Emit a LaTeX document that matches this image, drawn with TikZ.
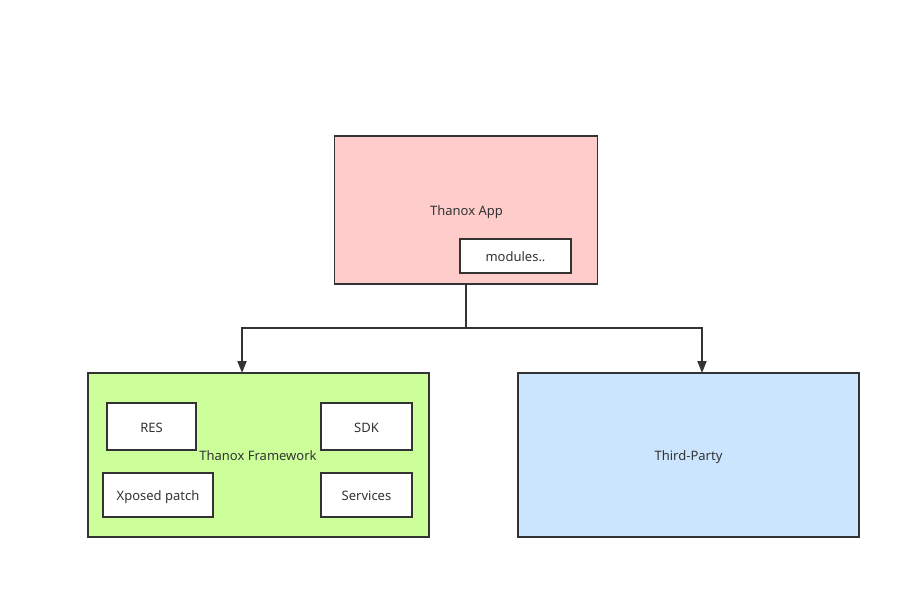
\documentclass[tikz,border=0pt]{standalone}
\usepackage{fontspec}
\setmainfont{Noto Sans}
\usepackage{xcolor}
\definecolor{lgrey}{RGB}{51,51,51}
\definecolor{apppink}{RGB}{255,204,204}
\definecolor{fwgreen}{RGB}{204,255,153}
\definecolor{tpblue}{RGB}{204,229,255}
\usetikzlibrary{arrows.meta}
\tikzset{
  lbl/.style={text=lgrey, font=\fontsize{13}{15}\selectfont, text height=12pt, text depth=1pt},
  blk/.style={lbl, draw=lgrey, line width=1.8pt, inner sep=0pt},
  arr/.style={draw=lgrey, line width=1.8pt, -{Triangle[width=9pt,length=12pt]}}
}

\begin{document}
\begin{tikzpicture}[x=1pt,y=-1pt]
\useasboundingbox (0,0) rectangle (921,600);
\node[blk, fill=apppink, minimum width=263pt, minimum height=148pt](app) at (466,210){};
\node[lbl](applbl) at (466.5,210){Thanox App};
\node[blk, fill=white, minimum width=111pt, minimum height=34pt](mods) at (515.5,256){modules..};
\node[blk, fill=fwgreen, minimum width=341pt, minimum height=164pt](fw) at (258.5,455){};
\node[lbl](fwlbl) at (258,455){Thanox Framework};
\node[blk, fill=white, minimum width=89pt, minimum height=47pt](res) at (151.5,426.5){RES};
\node[blk, fill=white, minimum width=91pt, minimum height=47pt](sdk) at (366.5,426.5){SDK};
\node[blk, fill=white, minimum width=110pt, minimum height=44pt](xp) at (158,495){Xposed patch};
\node[blk, fill=white, minimum width=91pt, minimum height=44pt](svc) at (366.5,495){Services};
\node[blk, fill=tpblue, minimum width=341pt, minimum height=164pt](tp) at (688.5,455){Third-Party};
\coordinate (split) at (466,328);
\coordinate (fwin) at (242,373);
\coordinate (tpin) at (702,373);
\draw[arr] (app.south) -- (split) -| (fwin);
\draw[arr] (split) -| (tpin);
\end{tikzpicture}
\end{document}
